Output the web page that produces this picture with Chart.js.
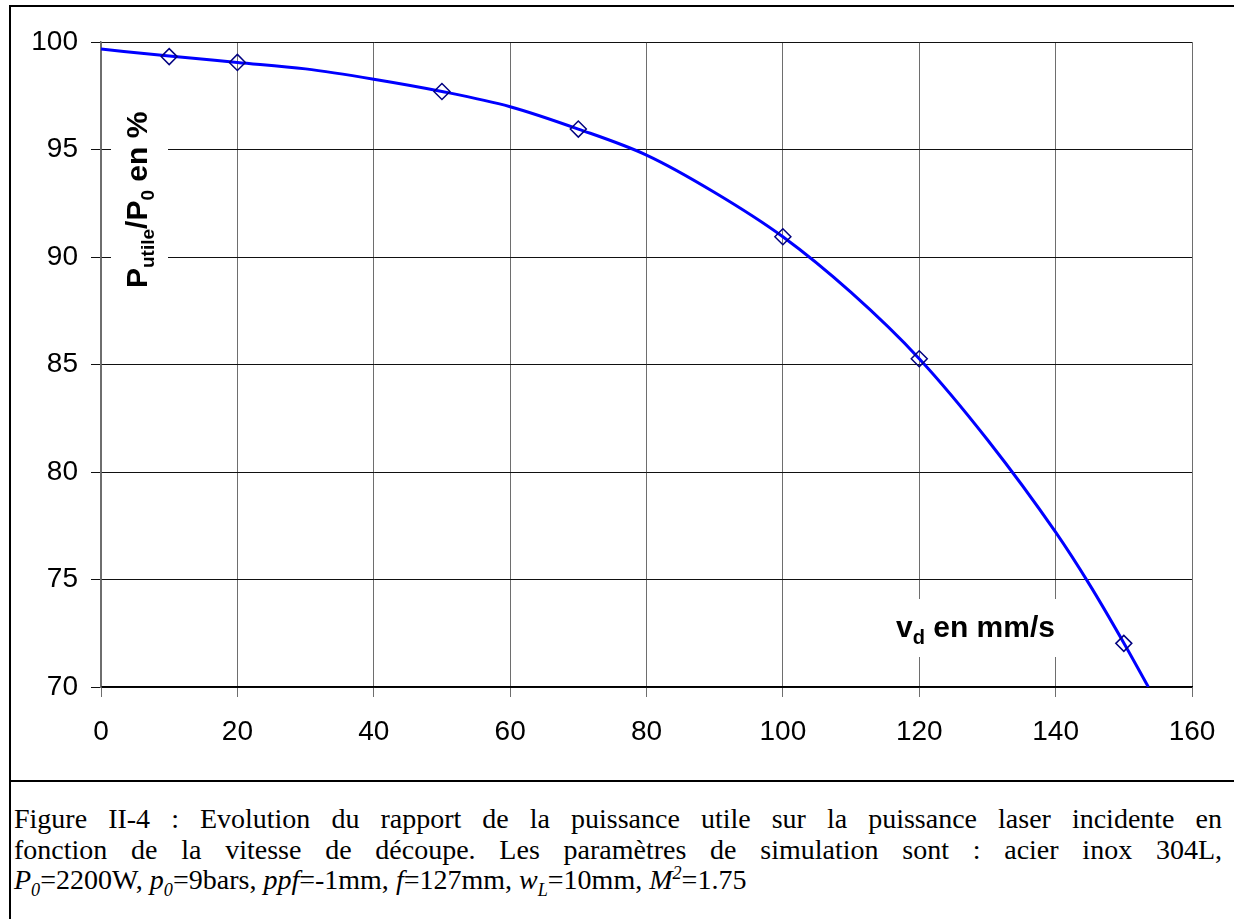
<!DOCTYPE html>
<html>
<head>
<meta charset="utf-8">
<script src="https://cdn.jsdelivr.net/npm/chart.js@4.4.1/dist/chart.umd.min.js"></script>
<style>
body { margin: 0; background: #fff; width: 1234px; height: 919px; overflow: hidden; position: relative; }
#frame { position: absolute; left: 9px; top: 5px; width: 1240px; height: 1000px; border-left: 2px solid #000; border-top: 2px solid #000; }
#sep { position: absolute; left: 9px; top: 780px; width: 1240px; height: 0; border-top: 2px solid #000; }
#chart { position: absolute; left: 0; top: 0; }
#caption { position: absolute; left: 14px; top: 804px; width: 1208px; font-family: "Liberation Serif", "Times New Roman", serif; font-size: 28px; line-height: 30.5px; color: #000; }
.jl { text-align: justify; text-align-last: justify; white-space: nowrap; }
sub, sup { font-size: 65%; line-height: 0; }
</style>
</head>
<body>
<div id="frame"></div>
<div id="sep"></div>
<canvas id="chart" width="1234" height="780"></canvas>
<div id="caption">
<div class="jl">Figure II-4 : Evolution du rapport de la puissance utile sur la puissance laser incidente en</div>
<div class="jl">fonction de la vitesse de découpe. Les paramètres de simulation sont : acier inox 304L,</div>
<div><i>P<sub>0</sub></i>=2200W, <i>p<sub>0</sub></i>=9bars, <i>ppf</i>=-1mm, <i>f</i>=127mm, <i>w<sub>L</sub></i>=10mm, <i>M<sup>2</sup></i>=1.75</div>
</div>
<script>
// simulation points (diamonds)
var vitesse = [10, 20, 50, 70, 100, 120, 150];
var rapport = [99.32, 99.05, 97.7, 95.95, 90.94, 85.27, 72.03];

// trend curve
var courbeX = [0, 10, 20, 30, 40, 50, 60, 70, 80, 90, 100, 110, 120, 130, 140, 145, 150, 153.6];
var courbeY = [99.67, 99.35, 99.05, 98.75, 98.27, 97.7, 96.99, 95.95, 94.74, 93.0, 90.94, 88.35, 85.27, 81.5, 77.2, 74.75, 72.05, 70];

var xTicks = [0, 20, 40, 60, 80, 100, 120, 140, 160];
var yTicks = [70, 75, 80, 85, 90, 95, 100];

var tickFont = { family: "Liberation Sans, Arial, sans-serif", size: 28 };

function pts(xs, ys) {
	var out = [];
	for (var i = 0; i < xs.length; i++) {
		out.push({ x: xs[i], y: ys[i] });
	}
	return out;
}

function drawPieces(ctx, pieces) {
	var x = 0;
	for (const p of pieces) {
		ctx.font = "bold " + p.size + "px 'Liberation Sans', Arial, sans-serif";
		ctx.fillText(p.t, x, p.dy);
		x += ctx.measureText(p.t).width;
	}
}

var labelsPlugin = {
	id: "axisLabels",
	beforeDatasetsDraw: function(chart) {
		var ctx = chart.ctx;
		ctx.save();
		ctx.fillStyle = "#fff";
		ctx.fillRect(111, 96, 57, 204);
		ctx.fillRect(885, 599, 186, 58);

		ctx.fillStyle = "#000";
		ctx.textBaseline = "alphabetic";
		ctx.save();
		ctx.translate(147, 288);
		ctx.rotate(-Math.PI / 2);
		drawPieces(ctx, [
			{ t: "P", size: 30, dy: 0 },
			{ t: "utile", size: 19, dy: 7 },
			{ t: "/P", size: 30, dy: 0 },
			{ t: "0", size: 19, dy: 7 },
			{ t: " en %", size: 30, dy: 0 }
		]);
		ctx.restore();

		ctx.save();
		ctx.translate(896, 637);
		drawPieces(ctx, [
			{ t: "v", size: 30, dy: 0 },
			{ t: "d", size: 20, dy: 7 },
			{ t: " en mm/s", size: 30, dy: 0 }
		]);
		ctx.restore();
		ctx.restore();
	}
};

window.onload = function() {
	var ctx = document.getElementById("chart").getContext("2d");
	new Chart(ctx, {
		type: "scatter",
		data: {
			datasets: [
				{
					data: pts(vitesse, rapport),
					pointStyle: "rectRot",
					pointRadius: 8,
					pointBorderWidth: 1.5,
					pointBorderColor: "#000080",
					pointBackgroundColor: "rgba(0,0,0,0)",
					showLine: false,
					order: 0
				},
				{
					data: pts(courbeX, courbeY),
					showLine: true,
					borderColor: "#0000ff",
					borderWidth: 3,
					pointRadius: 0,
					cubicInterpolationMode: "monotone",
					order: 1
				}
			]
		},
		options: {
			responsive: false,
			animation: false,
			layout: { padding: { left: 0, top: 42, right: 42, bottom: 0 } },
			plugins: { legend: { display: false }, tooltip: { enabled: false } },
			scales: {
				x: {
					type: "linear",
					min: 0,
					max: 160,
					afterFit: function(s) { s.height = 93; },
					afterBuildTicks: function(s) { s.ticks = xTicks.map(v => ({ value: v })); },
					grid: { color: "#6e6e6e", lineWidth: 1, tickLength: 10 },
					border: { color: "#000", width: 1.5 },
					ticks: { color: "#000", font: tickFont, padding: 18, maxRotation: 0 }
				},
				y: {
					min: 70,
					max: 100,
					afterFit: function(s) { s.width = 101; },
					afterBuildTicks: function(s) { s.ticks = yTicks.map(v => ({ value: v })); },
					grid: { color: "#111", lineWidth: 1, tickLength: 10 },
					border: { color: "#6e6e6e", width: 1.5 },
					ticks: { color: "#000", font: tickFont, padding: 13 }
				}
			}
		},
		plugins: [labelsPlugin]
	});
};
</script>
</body>
</html>
